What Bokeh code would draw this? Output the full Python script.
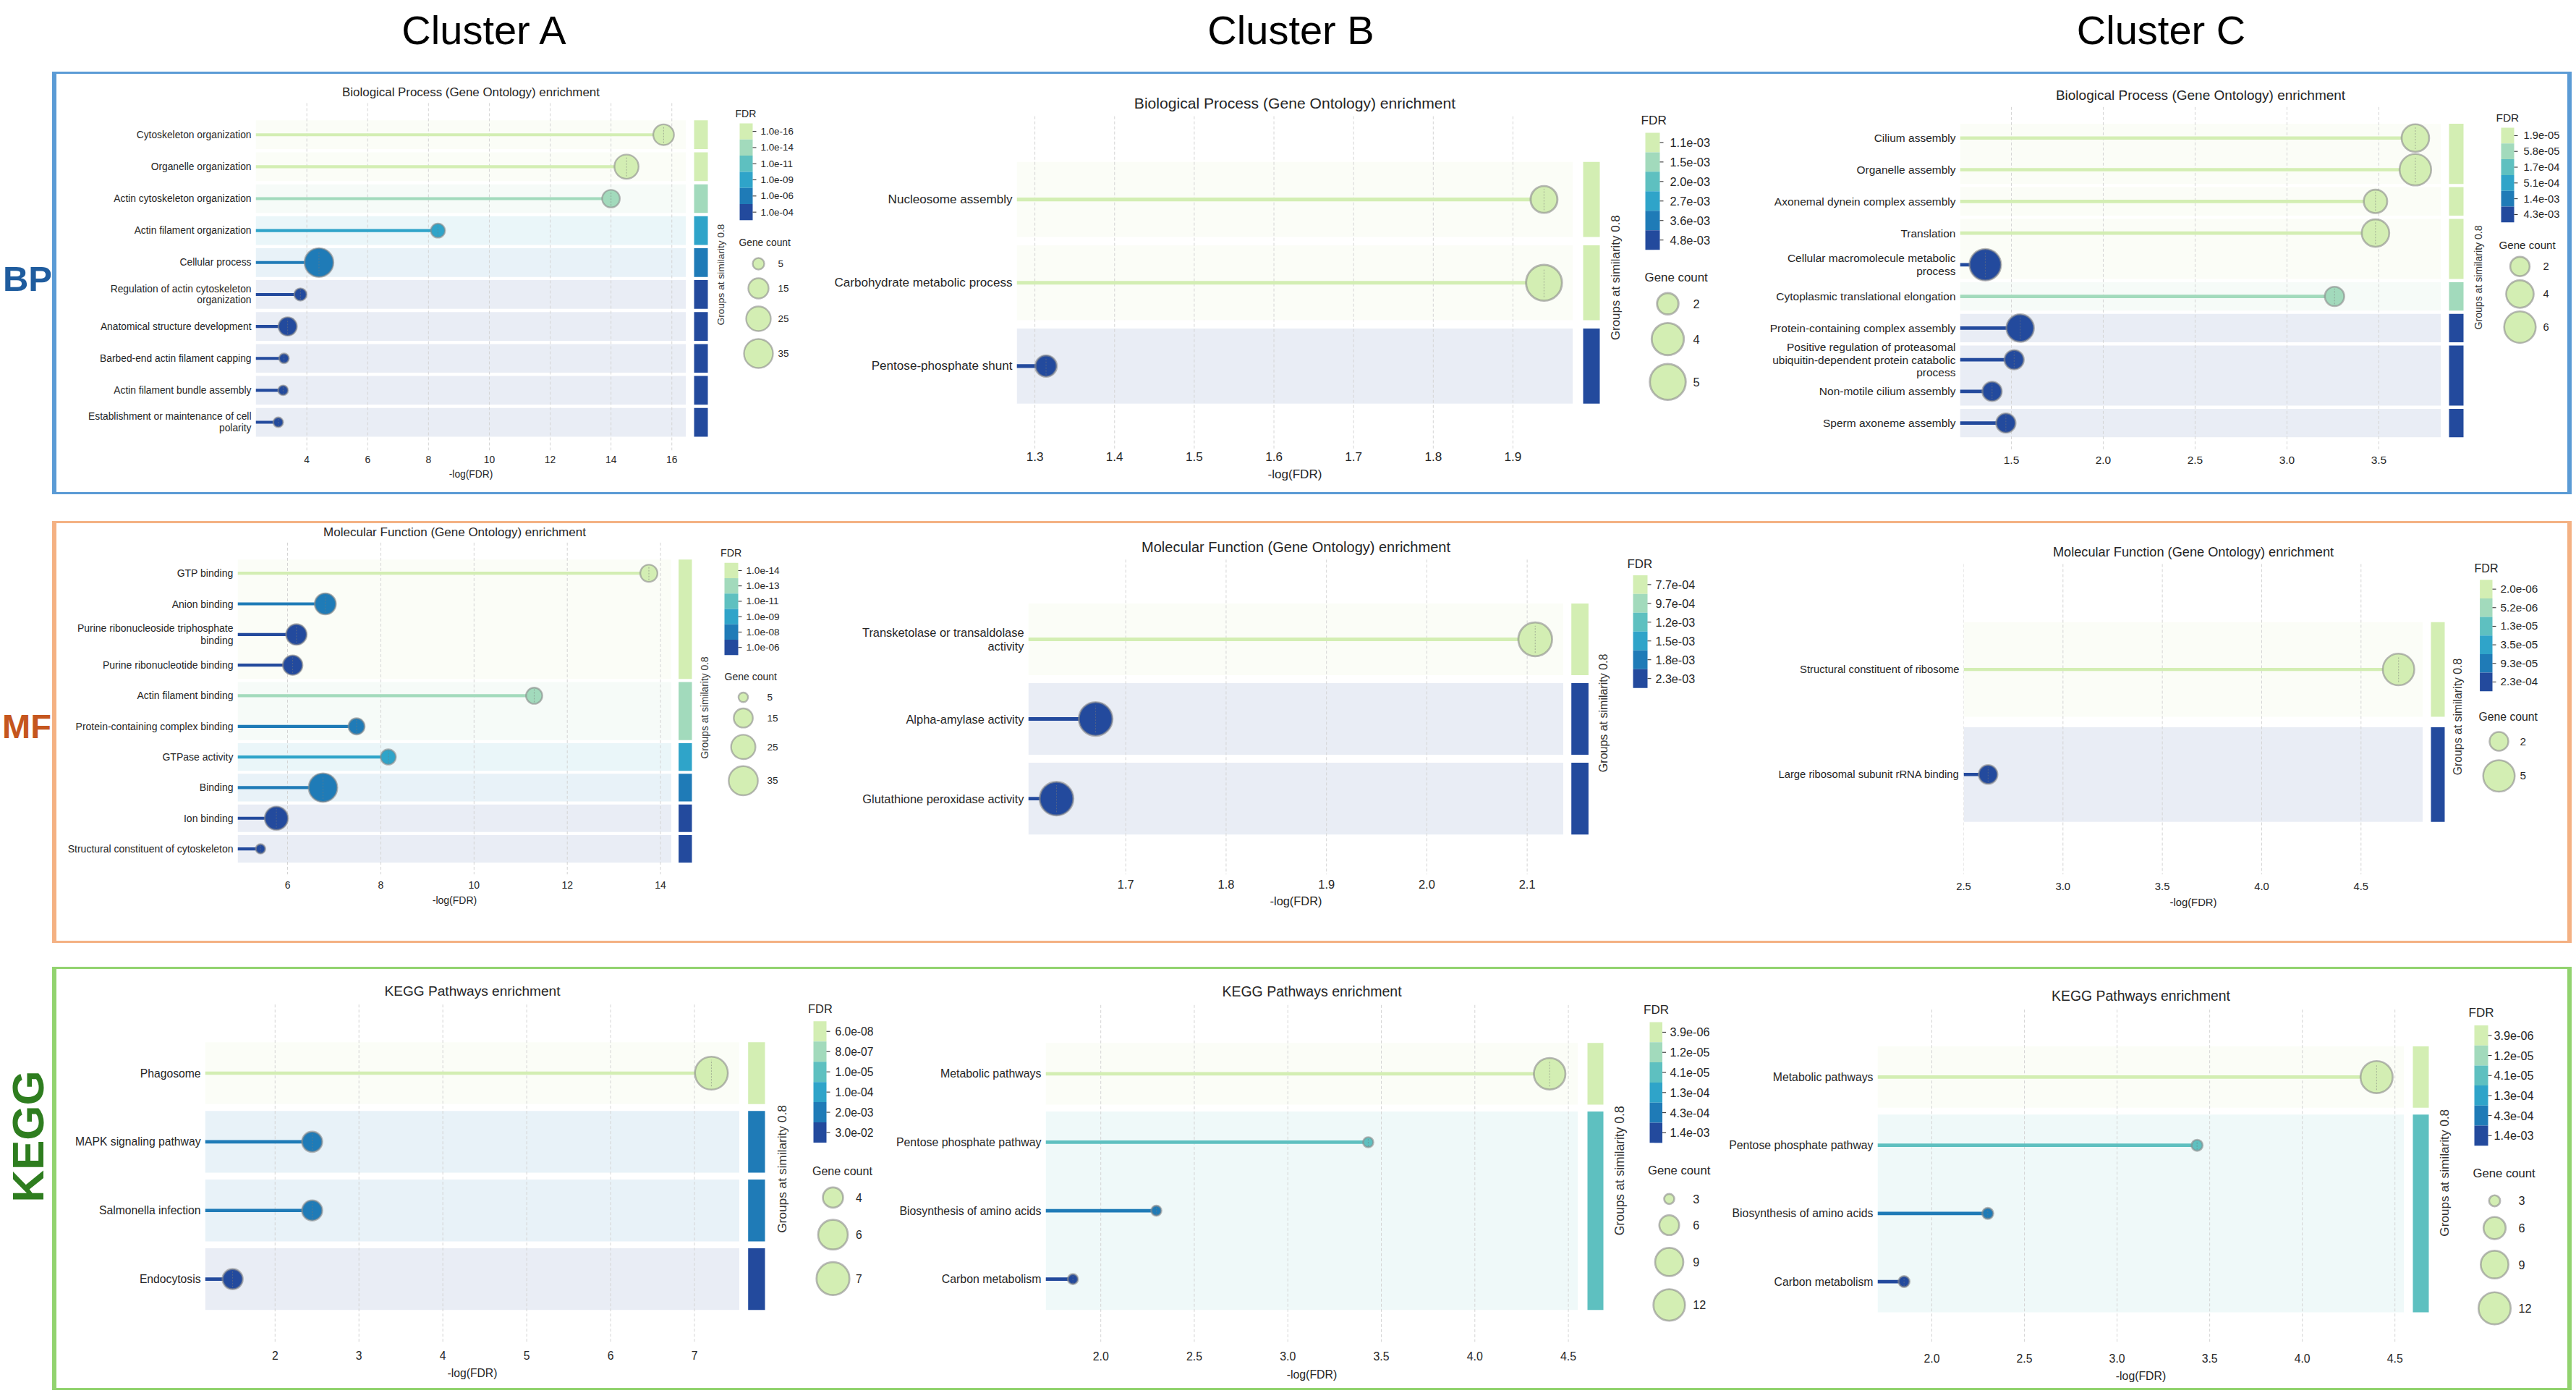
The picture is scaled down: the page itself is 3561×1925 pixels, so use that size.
import numpy as np
from bokeh.plotting import figure
from bokeh.models import Range1d, FixedTicker, PrintfTickFormatter, Spacer
from bokeh.layouts import row, column
from bokeh.embed import file_html
from bokeh.resources import INLINE
from bokeh.core.properties import value

FONT = "Liberation Sans"
TXT = "#262626"

# ------------------------------------------------------------------ data
fdr_palette = ["#d3eeb3", "#a2dabc", "#5ec0c0", "#2fa4c9", "#1f7bb7", "#234a9d"]
cluster_names = ["Cluster A", "Cluster B", "Cluster C"]
category_names = ["BP", "MF", "KEGG"]
bp_title = "Biological Process (Gene Ontology) enrichment"
mf_title = "Molecular Function (Gene Ontology) enrichment"
kegg_title = "KEGG Pathways enrichment"
group_label = "Groups at similarity 0.8"

# BP - cluster A
bp_a_terms = ["Cytoskeleton organization", "Organelle organization",
              "Actin cytoskeleton organization", "Actin filament organization",
              "Cellular process", "Regulation of actin cytoskeleton\norganization",
              "Anatomical structure development", "Barbed-end actin filament capping",
              "Actin filament bundle assembly",
              "Establishment or maintenance of cell\npolarity"]
bp_a_neglog = [15.73, 14.51, 14.00, 8.31, 4.40, 3.79, 3.37, 3.25, 3.22, 3.06]
bp_a_genes = [16, 24, 12, 8, 35, 6, 13, 4, 4, 4]
bp_a_fdr_bin = [0, 0, 1, 3, 4, 5, 5, 5, 5, 5]
bp_a_group = [0, 1, 2, 3, 4, 5, 6, 7, 8, 9]
bp_a_ticks = [4, 6, 8, 10, 12, 14, 16]
bp_a_fdr_labels = ["1.0e-16", "1.0e-14", "1.0e-11", "1.0e-09", "1.0e-06", "1.0e-04"]
bp_a_gene_legend = [5, 15, 25, 35]

# BP - cluster B
bp_b_terms = ["Nucleosome assembly", "Carbohydrate metabolic process", "Pentose-phosphate shunt"]
bp_b_neglog = [1.939, 1.939, 1.314]
bp_b_genes = [3, 5, 2]
bp_b_fdr_bin = [0, 0, 5]
bp_b_group = [0, 1, 2]
bp_b_ticks = [1.3, 1.4, 1.5, 1.6, 1.7, 1.8, 1.9]
bp_b_fdr_labels = ["1.1e-03", "1.5e-03", "2.0e-03", "2.7e-03", "3.6e-03", "4.8e-03"]
bp_b_gene_legend = [2, 4, 5]

# BP - cluster C
bp_c_terms = ["Cilium assembly", "Organelle assembly", "Axonemal dynein complex assembly",
              "Translation", "Cellular macromolecule metabolic\nprocess",
              "Cytoplasmic translational elongation", "Protein-containing complex assembly",
              "Positive regulation of proteasomal\nubiquitin-dependent protein catabolic\nprocess",
              "Non-motile cilium assembly", "Sperm axoneme assembly"]
bp_c_neglog = [3.699, 3.699, 3.482, 3.482, 1.358, 3.259, 1.548, 1.515, 1.395, 1.470]
bp_c_genes = [4, 6, 3, 4, 6, 2, 4, 2, 2, 2]
bp_c_fdr_bin = [0, 0, 0, 0, 5, 1, 5, 5, 5, 5]
bp_c_group = [0, 0, 1, 2, 2, 3, 4, 5, 5, 6]
bp_c_ticks = [1.5, 2.0, 2.5, 3.0, 3.5]
bp_c_fdr_labels = ["1.9e-05", "5.8e-05", "1.7e-04", "5.1e-04", "1.4e-03", "4.3e-03"]
bp_c_gene_legend = [2, 4, 6]

# MF - cluster A
mf_a_terms = ["GTP binding", "Anion binding", "Purine ribonucleoside triphosphate\nbinding",
              "Purine ribonucleotide binding", "Actin filament binding",
              "Protein-containing complex binding", "GTPase activity", "Binding",
              "Ion binding", "Structural constituent of cytoskeleton"]
mf_a_neglog = [13.75, 6.81, 6.19, 6.11, 11.29, 7.48, 8.16, 6.76, 5.76, 5.42]
mf_a_genes = [13, 19, 18, 16, 12, 12, 11, 34, 23, 5]
mf_a_fdr_bin = [0, 4, 5, 5, 1, 4, 3, 4, 5, 5]
mf_a_group = [0, 0, 0, 0, 1, 1, 2, 3, 4, 5]
mf_a_ticks = [6, 8, 10, 12, 14]
mf_a_fdr_labels = ["1.0e-14", "1.0e-13", "1.0e-11", "1.0e-09", "1.0e-08", "1.0e-06"]
mf_a_gene_legend = [5, 15, 25, 35]

# MF - cluster B
mf_b_terms = ["Transketolase or transaldolase\nactivity", "Alpha-amylase activity",
              "Glutathione peroxidase activity"]
mf_b_neglog = [2.108, 1.670, 1.631]
mf_b_genes = [2, 2, 2]
mf_b_fdr_bin = [0, 5, 5]
mf_b_group = [0, 1, 2]
mf_b_ticks = [1.7, 1.8, 1.9, 2.0, 2.1]
mf_b_fdr_labels = ["7.7e-04", "9.7e-04", "1.2e-03", "1.5e-03", "1.8e-03", "2.3e-03"]
mf_b_gene_legend = []

# MF - cluster C
mf_c_terms = ["Structural constituent of ribosome", "Large ribosomal subunit rRNA binding"]
mf_c_neglog = [4.689, 2.623]
mf_c_genes = [5, 2]
mf_c_fdr_bin = [0, 5]
mf_c_group = [0, 1]
mf_c_ticks = [2.5, 3.0, 3.5, 4.0, 4.5]
mf_c_fdr_labels = ["2.0e-06", "5.2e-06", "1.3e-05", "3.5e-05", "9.3e-05", "2.3e-04"]
mf_c_gene_legend = [2, 5]

# KEGG - cluster A
kegg_a_terms = ["Phagosome", "MAPK signaling pathway", "Salmonella infection", "Endocytosis"]
kegg_a_neglog = [7.202, 2.442, 2.442, 1.494]
kegg_a_genes = [7, 4, 4, 4]
kegg_a_fdr_bin = [0, 4, 4, 5]
kegg_a_group = [0, 1, 2, 3]
kegg_a_ticks = [2, 3, 4, 5, 6, 7]
kegg_a_fdr_labels = ["6.0e-08", "8.0e-07", "1.0e-05", "1.0e-04", "2.0e-03", "3.0e-02"]
kegg_a_gene_legend = [4, 6, 7]

# KEGG - cluster B
kegg_b_terms = ["Metabolic pathways", "Pentose phosphate pathway",
                "Biosynthesis of amino acids", "Carbon metabolism"]
kegg_b_neglog = [4.400, 3.430, 2.297, 1.851]
kegg_b_genes = [12, 3, 3, 3]
kegg_b_fdr_bin = [0, 2, 4, 5]
kegg_b_group = [0, 1, 1, 1]
kegg_b_ticks = [2.0, 2.5, 3.0, 3.5, 4.0, 4.5]
kegg_b_fdr_labels = ["3.9e-06", "1.2e-05", "4.1e-05", "1.3e-04", "4.3e-04", "1.4e-03"]
kegg_b_gene_legend = [3, 6, 9, 12]

# KEGG - cluster C
kegg_c_terms = ["Metabolic pathways", "Pentose phosphate pathway",
                "Biosynthesis of amino acids", "Carbon metabolism"]
kegg_c_neglog = [4.401, 3.432, 2.302, 1.850]
kegg_c_genes = [12, 3, 3, 3]
kegg_c_fdr_bin = [0, 2, 4, 5]
kegg_c_group = [0, 1, 1, 1]
kegg_c_ticks = [2.0, 2.5, 3.0, 3.5, 4.0, 4.5]
kegg_c_fdr_labels = ["3.9e-06", "1.2e-05", "4.1e-05", "1.3e-04", "4.3e-04", "1.4e-03"]
kegg_c_gene_legend = [3, 6, 9, 12]


def pack(prefix, title):
    g = globals()
    return dict(terms=g[prefix + "_terms"], neglog=g[prefix + "_neglog"],
                genes=g[prefix + "_genes"], fdr_bin=g[prefix + "_fdr_bin"],
                group=g[prefix + "_group"], ticks=g[prefix + "_ticks"],
                fdr_labels=g[prefix + "_fdr_labels"], gene_legend=g[prefix + "_gene_legend"],
                title=title)


# ------------------------------------------------------------------ layout (page pixels)
LAY = {
    "bp_a": dict(PL=78, BL=353, BR=948, PR=1130, x0=2.32, x1=16.47, R0=185.7, RP=44.15,
                 GT=142, GB=622, TY=127, fs=13.8, fst=16.9, TLY=637, ALY=657.5, fmt="%d",
                 G0=959, G1=978, GLX=996, GLY=379, fsg=13.7, FX=1016, FY=156,
                 CB0=1022, CB1=1040, CBT=170, CBH=22.3, CLX=1051, fsl=13.4,
                 GX=1021, GY=335, CX=1048, CYs=[364, 398, 440, 488], LX=1075,
                 sv=[0, 5, 15, 25, 35], sp=[4, 16, 28, 34, 40]),
    "bp_b": dict(PL=1130, BL=1405, BR=2174, PR=2380, x0=1.2772, x1=1.9754, R0=277.5, RP=116.65,
                 GT=161, GB=629, TY=143, fs=17.1, fst=21.1, TLY=641, ALY=666, fmt="%.1f",
                 G0=2188, G1=2211, GLX=2233, GLY=387, fsg=16.9, FX=2268, FY=166,
                 CB0=2274, CB1=2294, CBT=184, CBH=27.33, CLX=2308, fsl=16.4,
                 GX=2273, GY=387, CX=2305, CYs=[423.5, 473, 533], LX=2340,
                 sv=[0, 2, 4, 5], sp=[6, 29.6, 44.4, 49.6]),
    "bp_c": dict(PL=2380, BL=2709, BR=3374, PR=3549, x0=1.2205, x1=3.839, R0=194.7, RP=45.95,
                 GT=149.6, GB=648, TY=132.6, fs=15.5, fst=19.0, TLY=665, ALY=None, fmt="%.1f",
                 G0=3385, G1=3405, GLX=3425, GLY=397, fsg=14.1, FX=3450, FY=164.6,
                 CB0=3457, CB1=3475, CBT=179.7, CBH=22.9, CLX=3488, fsl=14.7,
                 GX=3454, GY=350, CX=3483, CYs=[381, 421, 469], LX=3515,
                 sv=[0, 2, 4, 6], sp=[5, 26.8, 38, 43.6]),
    "mf_a": dict(PL=78, BL=328, BR=928, PR=1130, x0=4.929, x1=14.239, R0=795.1, RP=44.41,
                 GT=750.7, GB=1232, TY=735.7, fs=14.0, fst=17.0, TLY=1249, ALY=1270, fmt="%d",
                 G0=937.6, G1=956, GLX=974, GLY=990, fsg=13.8, FX=995.6, FY=765.8,
                 CB0=1001, CB1=1020, CBT=780, CBH=22.3, CLX=1031, fsl=13.6,
                 GX=1001, GY=945, CX=1027, CYs=[975, 1005, 1047, 1096], LX=1060,
                 sv=[0, 5, 15, 25, 35], sp=[4, 13.2, 26.4, 33.7, 40.3]),
    "mf_b": dict(PL=1130, BL=1421, BR=2161, PR=2380, x0=1.6029, x1=2.1363, R0=884.3, RP=111.0,
                 GT=773.3, GB=1211.7, TY=755.6, fs=16.4, fst=20.0, TLY=1228.6, ALY=1252, fmt="%.1f",
                 G0=2171.7, G1=2195.4, GLX=2216, GLY=987, fsg=16.0, FX=2249, FY=779,
                 CB0=2257, CB1=2277, CBT=795, CBH=26.17, CLX=2288, fsl=16.1,
                 GX=0, GY=0, CX=0, CYs=[], LX=0,
                 sv=[0, 2], sp=[0, 46.6]),
    "mf_c": dict(PL=2380, BL=2714, BR=3349, PR=3549, x0=2.5, x1=4.812, R0=924.6, RP=145.2,
                 GT=779, GB=1208, TY=762, fs=14.8, fst=18.2, TLY=1227.5, ALY=1250, fmt="%.1f",
                 G0=3360, G1=3379, GLX=3397, GLY=990, fsg=15.8, FX=3420, FY=784.6,
                 CB0=3427.6, CB1=3445, CBT=800.8, CBH=25.65, CLX=3456, fsl=15.3,
                 GX=3426, GY=990, CX=3454, CYs=[1024, 1071.7], LX=3483,
                 sv=[0, 2, 5], sp=[4, 26, 43.6]),
    "kegg_a": dict(PL=78, BL=283, BR=1022, PR=1220, x0=1.1655, x1=7.539, R0=1482.5, RP=94.87,
                   GT=1387.7, GB=1853.7, TY=1369, fs=15.7, fst=19.1, TLY=1875, ALY=1899, fmt="%d",
                   G0=1033.7, G1=1057, GLX=1080, GLY=1615, fsg=17.3, FX=1116.6, FY=1393.7,
                   CB0=1124, CB1=1142, CBT=1410.8, CBH=27.95, CLX=1154, fsl=15.6,
                   GX=1122.4, GY=1617, CX=1151, CYs=[1654.4, 1705.7, 1766.4], LX=1182.6,
                   sv=[0, 4, 6, 7], sp=[4, 27.9, 41, 45.5]),
    "kegg_b": dict(PL=1220, BL=1445, BR=2181, PR=2375, x0=1.7053, x1=4.552, R0=1484.8, RP=95.5,
                   GT=1388.8, GB=1859, TY=1369.8, fs=15.9, fst=19.5, TLY=1881, ALY=1906.8, fmt="%.1f",
                   G0=2194, G1=2216, GLX=2238, GLY=1620, fsg=17.5, FX=2271.6, FY=1395.3,
                   CB0=2280, CB1=2297.5, CBT=1412.7, CBH=28.08, CLX=2308, fsl=16.2,
                   GX=2277.6, GY=1620, CX=2307, CYs=[1659.4, 1696, 1747.4, 1807.4], LX=2339.7,
                   sv=[0, 3, 6, 9, 12], sp=[4, 14, 27.4, 39, 43.6]),
    "kegg_c": dict(PL=2375, BL=2595, BR=3323, PR=3549, x0=1.707, x1=4.55, R0=1489.4, RP=95.1,
                   GT=1395.3, GB=1859.4, TY=1375.5, fs=15.8, fst=19.4, TLY=1884, ALY=1908.7, fmt="%.1f",
                   G0=3335, G1=3357, GLX=3378, GLY=1623, fsg=17.2, FX=3412, FY=1400,
                   CB0=3420, CB1=3439, CBT=1417.3, CBH=27.95, CLX=3447, fsl=16.2,
                   GX=3418, GY=1624, CX=3448, CYs=[1662, 1700, 1751, 1812], LX=3481,
                   sv=[0, 3, 6, 9, 12], sp=[4, 15.3, 30.6, 38.3, 44.4]),
}

ROWCFG = {
    "BP": dict(outer_top=99, outer_bottom=683, top=102, bottom=680, border="#5b9bd5",
               label_color="#1f5c9e", label_size=49, label_angle=0.0, label_x=37.5, label_y=384),
    "MF": dict(outer_top=720, outer_bottom=1303, top=723, bottom=1300, border="#f4b183",
               label_color="#c5561e", label_size=47, label_angle=0.0, label_x=36.5, label_y=1003),
    "KEGG": dict(outer_top=1336, outer_bottom=1921, top=1339, bottom=1918, border="#92d36f",
                 label_color="#2e7d1f", label_size=62, label_angle=np.pi / 2, label_x=38, label_y=1570),
}


def txt(fig, x, y, text, size, align="left", angle=0.0, color=TXT, style="normal",
        x_range_name="default", y_range_name="default", font=FONT):
    fig.text(x=x, y=y, text=text, angle=angle, text_align=align, text_baseline="middle",
             text_font=value(font), text_font_size=f"{size}px", text_color=color,
             text_font_style=style, x_range_name=x_range_name, y_range_name=y_range_name)


def build_panel(d, L, top, bottom):
    n = len(d["terms"])
    rows_idx = list(range(n))
    H = bottom - top
    PL, PR, BL, BR = L["PL"], L["PR"], L["BL"], L["BR"]
    GB = int(round(L["GB"]))
    R0, RP = L["R0"], L["RP"]
    fs = L["fs"]
    y_top = (top - R0) / RP
    y_bot = (GB - R0) / RP
    yr = Range1d(start=y_bot, end=y_top)
    xr = Range1d(start=L["x0"], end=L["x1"])
    mbb = bottom - GB

    p = figure(width=BR - PL, height=H, x_range=xr, y_range=yr,
               output_backend="svg", toolbar_location=None,
               min_border_left=BL - PL, min_border_right=0, min_border_top=0,
               min_border_bottom=mbb, background_fill_color="white",
               border_fill_color="white")
    p.outline_line_color = None
    p.xgrid.visible = False
    p.ygrid.visible = False
    p.extra_x_ranges = {"px": Range1d(BL, BR)}
    p.extra_y_ranges = {"px": Range1d(GB, top)}

    cols = [fdr_palette[b] for b in d["fdr_bin"]]
    order = []
    for g in d["group"]:
        if g not in order:
            order.append(g)
    g_top, g_bot, g_col = [], [], []
    for g in order:
        idx = [i for i, gg in enumerate(d["group"]) if gg == g]
        g_top.append(min(idx) - 0.45)
        g_bot.append(max(idx) + 0.45)
        g_col.append(fdr_palette[d["fdr_bin"][min(idx)]])

    # group bands
    p.quad(left=L["x0"], right=L["x1"], top=g_top, bottom=g_bot,
           fill_color=g_col, fill_alpha=0.1, line_color=None)
    # vertical dashed grid at the ticks
    ticks = [float(t) for t in d["ticks"]]
    p.segment(x0=ticks, x1=ticks, y0=(L["GT"] - R0) / RP, y1=y_bot,
              line_color="#d4d4d4", line_width=1, line_dash="4 3")
    # stems
    p.segment(x0=L["x0"], y0=rows_idx, x1=d["neglog"], y1=rows_idx,
              line_color=cols, line_width=0.30 * fs)
    # bubbles
    sizes = np.interp(d["genes"], L["sv"], L["sp"])
    p.scatter(x=d["neglog"], y=rows_idx, size=sizes, fill_color=cols,
              line_color="#8a8a8a", line_alpha=0.6, line_width=0.17 * fs)
    p.scatter(x=d["neglog"], y=rows_idx, size=sizes * 0.8, marker="dash",
              angle=np.pi / 2, line_color="#7a7a7a", line_alpha=0.55,
              line_width=1, line_dash="2 2")
    # title
    txt(p, [(BL + BR) / 2], [L["TY"]], [d["title"]], L["fst"], align="center",
        x_range_name="px", y_range_name="px")

    # axes
    xa = p.xaxis[0]
    xa.ticker = FixedTicker(ticks=ticks)
    xa.formatter = PrintfTickFormatter(format=L["fmt"])
    xa.axis_line_color = None
    xa.major_tick_line_color = None
    xa.minor_tick_line_color = None
    xa.major_tick_out = 0
    xa.major_label_text_font = FONT
    xa.major_label_text_font_size = f"{fs}px"
    xa.major_label_text_color = TXT
    std = max(0, int(round(L["TLY"] - GB - 0.56 * fs)))
    xa.major_label_standoff = std
    if L["ALY"] is not None:
        xa.axis_label = "-log(FDR)"
        xa.axis_label_text_font = FONT
        xa.axis_label_text_font_size = f"{fs}px"
        xa.axis_label_text_font_style = "normal"
        xa.axis_label_text_color = TXT
        xa.axis_label_standoff = max(0, int(round(L["ALY"] - GB - std - 1.12 * fs - 0.56 * fs)))

    ya = p.yaxis[0]
    ya.ticker = FixedTicker(ticks=rows_idx)
    ya.major_label_overrides = {i: t for i, t in enumerate(d["terms"])}
    ya.axis_line_color = None
    ya.major_tick_line_color = None
    ya.minor_tick_line_color = None
    ya.major_tick_out = 0
    ya.major_label_standoff = 6
    ya.major_label_text_font = FONT
    ya.major_label_text_font_size = f"{fs}px"
    ya.major_label_text_color = TXT
    ya.major_label_text_line_height = 1.05

    # right side: group bars + legends
    q = figure(width=PR - BR, height=H, x_range=Range1d(BR, PR), y_range=yr,
               output_backend="svg", toolbar_location=None,
               min_border_left=0, min_border_right=0, min_border_top=0,
               min_border_bottom=mbb, x_axis_location=None, y_axis_location=None,
               background_fill_color="white", border_fill_color="white")
    q.outline_line_color = None
    q.grid.visible = False
    q.extra_y_ranges = {"px": Range1d(GB, top)}
    q.quad(left=L["G0"], right=L["G1"], top=g_top, bottom=g_bot,
           fill_color=g_col, line_color=None)
    txt(q, [L["GLX"]], [L["GLY"]], [group_label], L["fsg"], align="center",
        angle=np.pi / 2, color="#333333", y_range_name="px")
    # FDR colour bar
    fl = L["fsl"]
    txt(q, [L["FX"]], [L["FY"]], ["FDR"], fl * 1.05, y_range_name="px")
    k = np.arange(len(fdr_palette))
    tops = L["CBT"] + k * L["CBH"]
    q.quad(left=L["CB0"], right=L["CB1"], top=tops, bottom=tops + L["CBH"],
           fill_color=fdr_palette, line_color=None, y_range_name="px")
    yc = tops + L["CBH"] / 2
    q.segment(x0=L["CB1"], x1=L["CB1"] + 5, y0=yc, y1=yc, line_color=TXT,
              line_width=1, y_range_name="px")
    txt(q, [L["CLX"]] * len(yc), list(yc), d["fdr_labels"], fl, y_range_name="px")
    # gene count legend
    if d["gene_legend"]:
        txt(q, [L["GX"]], [L["GY"]], ["Gene count"], fl * 1.03, y_range_name="px")
        ls = np.interp(d["gene_legend"], L["sv"], L["sp"])
        q.scatter(x=[L["CX"]] * len(ls), y=L["CYs"], size=ls, fill_color=fdr_palette[0],
                  line_color="#8a8a8a", line_alpha=0.6, line_width=0.17 * fs,
                  y_range_name="px")
        txt(q, [L["LX"]] * len(ls), L["CYs"], [str(v) for v in d["gene_legend"]], fl,
            y_range_name="px")
    return p, q


def build_row(name, keys, title):
    rc = ROWCFG[name]
    children = []
    for key in keys:
        p, q = build_panel(pack(key, title), LAY[key], rc["top"], rc["bottom"])
        children += [p, q]
    box = row(children, spacing=0,
              styles={"border-style": "solid", "border-color": rc["border"],
                      "border-width": "3px 6px"})
    oh = rc["outer_bottom"] - rc["outer_top"]
    lab = figure(width=72, height=oh, x_range=Range1d(0, 72),
                 y_range=Range1d(rc["outer_bottom"], rc["outer_top"]),
                 output_backend="svg", toolbar_location=None, min_border=0,
                 x_axis_location=None, y_axis_location=None)
    lab.outline_line_color = None
    lab.grid.visible = False
    txt(lab, [rc["label_x"]], [rc["label_y"]], [name], rc["label_size"], align="center",
        angle=rc["label_angle"], color=rc["label_color"], style="bold")
    return row([lab, box], spacing=0)


header = figure(width=3553, height=99, x_range=Range1d(0, 3553), y_range=Range1d(99, 0),
                output_backend="svg", toolbar_location=None, min_border=0,
                x_axis_location=None, y_axis_location=None)
header.outline_line_color = None
header.grid.visible = False
txt(header, [670, 1784, 2987], [41, 41, 41], cluster_names, 56, align="center",
    color="#000000")

row_bp = build_row("BP", ["bp_a", "bp_b", "bp_c"], bp_title)
row_mf = build_row("MF", ["mf_a", "mf_b", "mf_c"], mf_title)
row_kegg = build_row("KEGG", ["kegg_a", "kegg_b", "kegg_c"], kegg_title)

page = column([header, row_bp, Spacer(height=37, width=10), row_mf,
               Spacer(height=33, width=10), row_kegg], spacing=0)

open("out.html", "w").write(file_html(page, INLINE))
